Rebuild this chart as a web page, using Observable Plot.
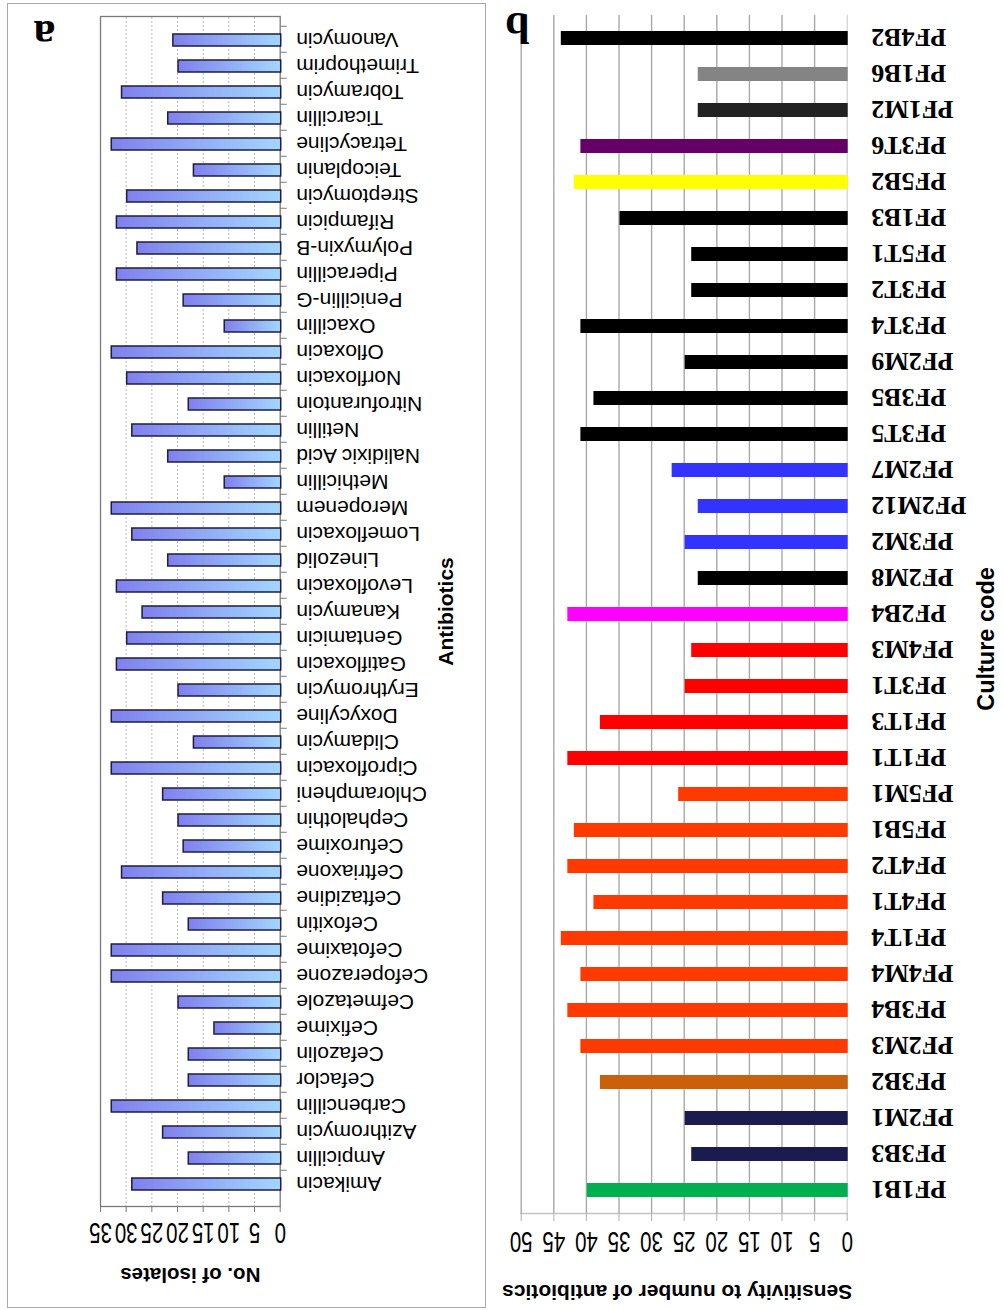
<!DOCTYPE html>
<html>
<head>
<meta charset="utf-8">
<script src="https://cdn.jsdelivr.net/npm/d3@7"></script>
<script src="https://cdn.jsdelivr.net/npm/@observablehq/plot@0.6"></script>
<style>
  html, body { margin: 0; padding: 0; background: #fff; }
  #wrap { position: relative; width: 1004px; height: 1310px; transform: rotate(180deg); overflow: hidden; background: #fff; }
  #panelA { position: absolute; left: 504px; top: 0; width: 500px; height: 1310px; }
  #panelB { position: absolute; left: 0; top: 0; width: 504px; height: 1310px; }
  #boxA { position: absolute; left: 518px; top: 2px; width: 477px; height: 1303px; border: 1.5px solid #a8a8a8; pointer-events: none; }
</style>
</head>
<body>
<div id="wrap">
  <div id="panelB"></div>
  <div id="panelA"></div>
  <div id="boxA"></div>
</div>
<script>
// ---- Panel a data ----
const antibiotics = ["Amikacin","Ampicillin","Azithromycin","Carbencillin","Cefaclor","Cefazolin","Cefixime","Cefmetazole","Cefoperazone","Cefotaxime","Cefoxitin","Ceftazidine","Ceftriaxone","Cefuroxime","Cephalothin","Chlorampheni","Ciprofloxacin","Clidamycin","Doxycyline","Erythromycin","Gatifloxacin","Gentamicin","Kanamycin","Levofloxacin","Linezolid","Lomefloxacin","Meropenem","Methicillin","Nalidixic Acid","Netillin","Nitrofurantoin","Norfloxacin","Ofloxacin","Oxacillin","Penicillin-G","Piperacillin","Polymyxin-B","Rifampicin","Streptomycin","Teicoplanin","Tetracycline","Ticarcillin","Tobramycin","Trimethoprim","Vanomycin"];
const isolates = [29,18,23,33,18,18,13,20,33,33,18,23,31,19,20,23,33,17,33,20,32,30,27,32,22,29,33,11,22,29,18,30,33,11,19,32,28,32,30,17,33,22,31,20,21];
const isolateTicks = [0,5,10,15,20,25,30,35];

// ---- Panel b data ----
const cultureCodes = ["PF1B1","PF3B3","PF2M1","PF3B2","PF2M3","PF3B4","PF4M4","PF1T4","PF4T1","PF4T2","PF5B1","PF5M1","PF1T1","PF1T3","PF3T1","PF4M3","PF2B4","PF2M8","PF3M2","PF2M12","PF2M7","PF3T5","PF3B5","PF2M9","PF3T4","PF3T2","PF5T1","PF1B3","PF5B2","PF3T6","PF1M2","PF1B6","PF4B2"];
const sensitivity = [40,24,25,38,41,43,41,44,39,43,42,26,43,38,25,24,43,23,25,23,27,41,39,25,41,24,24,35,42,41,23,23,44];
const barColors = ["#00b050","#1b1b4f","#1b1b4f","#c8600c","#ff3a00","#ff3a00","#ff3a00","#ff3a00","#ff3a00","#ff3a00","#ff3a00","#ff3a00","#ff0000","#ff0000","#ff0000","#ff0000","#ff00ff","#000000","#3333ff","#3333ff","#3333ff","#000000","#000000","#000000","#000000","#000000","#000000","#000000","#ffff00","#660066","#222222","#848484","#000000"];
const sensitivityTicks = [0,5,10,15,20,25,30,35,40,45,50];

const sans = "'Liberation Sans', Arial, sans-serif";
const serif = "'Liberation Serif', 'Times New Roman', serif";

// stretch the numeric tick labels vertically (they are tall in the original)
function stretchTickLabels(svg, s) {
  svg.querySelectorAll("text").forEach(t => {
    if (!/^\d+$/.test(t.textContent.trim())) return;
    const tr = t.getAttribute("transform") || "";
    const x = +(t.getAttribute("x") || 0), y = +(t.getAttribute("y") || 0);
    t.removeAttribute("x"); t.removeAttribute("y");
    t.setAttribute("transform", `${tr} translate(${x},${y}) scale(1,${s})`);
  });
}

const titleOpts = {textAnchor: "middle", lineAnchor: "middle", fill: "#000"};

// ---- Panel a ----
const dataA = antibiotics.map((name, i) => ({name, n: isolates[i]}));
const topA = 103, bottomA = 1293;
const stepA = (bottomA - topA) / antibiotics.length;
const plotA = Plot.plot({
  width: 500, height: 1310,
  marginLeft: 219.3, marginRight: 101, marginTop: topA, marginBottom: 1310 - bottomA,
  style: {background: "transparent", fontFamily: sans, overflow: "visible", color: "#000"},
  x: {domain: [0, 35]},
  y: {domain: antibiotics, paddingInner: 0.55, paddingOuter: 0.275},
  marks: [
    Plot.gridX(isolateTicks.slice(1, -1), {stroke: "#b8b8b8", strokeOpacity: 1, strokeDasharray: "2,2"}),
    Plot.frame({stroke: "#7a7a7a", strokeWidth: 1.3}),
    Plot.barX(dataA, {x: "n", y: "name", fill: "url(#isoGrad)", stroke: "#1e1e3c", strokeWidth: 1.5}),
    Plot.axisX(isolateTicks, {anchor: "top", tickSize: 6, tickPadding: 10, fontSize: 20.5, stroke: "#7a7a7a", fill: "#000", label: null}),
    Plot.axisY({tickSize: 6, text: null, dy: stepA / 2, stroke: "#7a7a7a", label: null}),
    Plot.axisY({tickSize: 0, tickPadding: 16, fontSize: 21, fill: "#000", label: null}),
    Plot.text(["Antibiotics"], {...titleOpts, frameAnchor: "left", dx: -166, rotate: 90, fontSize: 21, fontWeight: "bold"}),
    Plot.text(["No. of isolates"], {...titleOpts, frameAnchor: "top", dy: -68, fontSize: 20.5, fontWeight: "bold"}),
    Plot.text(["a"], {...titleOpts, frameAnchor: "bottom-right", dx: 56, dy: -19, fontSize: 44, fontWeight: "bold", fontFamily: serif})
  ]
});
const defs = d3.select(plotA).insert("defs", ":first-child");
const grad = defs.append("linearGradient").attr("id", "isoGrad").attr("x1", 0).attr("x2", 1).attr("y1", 0).attr("y2", 0);
grad.append("stop").attr("offset", "0%").attr("stop-color", "#a3d6ff");
grad.append("stop").attr("offset", "100%").attr("stop-color", "#8080ee");
stretchTickLabels(plotA, 1.45);
document.getElementById("panelA").appendChild(plotA);

// ---- Panel b ----
const dataB = cultureCodes.map((code, i) => ({code, value: sensitivity[i], color: barColors[i]}));
const plotB = Plot.plot({
  width: 504, height: 1310,
  marginLeft: 156.3, marginRight: 21.7, marginTop: 96, marginBottom: 15,
  style: {background: "transparent", fontFamily: sans, overflow: "visible", color: "#000"},
  x: {domain: [0, 50]},
  y: {domain: cultureCodes, paddingInner: 0.615, paddingOuter: 0.3075},
  color: {type: "identity"},
  marks: [
    Plot.gridX(sensitivityTicks.slice(1), {stroke: "#a8a8a8", strokeOpacity: 1, strokeWidth: 1.4}),
    Plot.ruleX([0], {stroke: "#d0d0d0", strokeWidth: 1.2}),
    Plot.frame({anchor: "top", stroke: "#c4c4c4", strokeWidth: 1.4}),
    Plot.barX(dataB, {x: "value", y: "code", fill: "color"}),
    Plot.axisX(sensitivityTicks, {anchor: "top", tickSize: 8, tickPadding: 10, fontSize: 20.5, stroke: "#b0b0b0", fill: "#000", label: null}),
    Plot.axisY({tickSize: 0, tickPadding: 24, fontSize: 26, fontWeight: "bold", fontFamily: serif, fill: "#000", label: null}),
    Plot.text(["Culture code"], {...titleOpts, frameAnchor: "left", dx: -139, dy: -25, rotate: 90, fontSize: 23.5, fontWeight: "bold"}),
    Plot.text(["Sensitivity to number of antibiotics"], {...titleOpts, frameAnchor: "top", dx: 7, dy: -78, fontSize: 21, fontWeight: "bold"}),
    Plot.text(["b"], {...titleOpts, frameAnchor: "bottom-right", dx: 4, dy: -13, fontSize: 44, fontWeight: "bold", fontFamily: serif})
  ]
});
stretchTickLabels(plotB, 1.45);
document.getElementById("panelB").appendChild(plotB);
</script>
</body>
</html>
